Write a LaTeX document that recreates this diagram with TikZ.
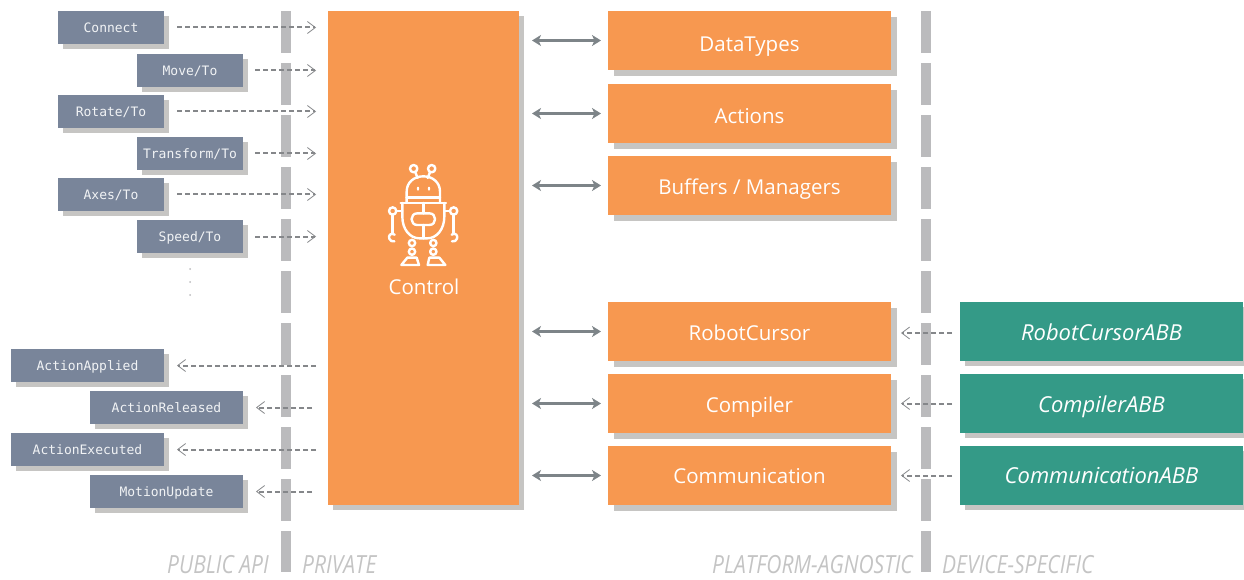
\documentclass[tikz,border=0pt]{standalone}
\usepackage{fontspec}
\setmainfont{Open Sans}
\setmonofont{DejaVu Sans Mono}
\newfontfamily\labelfont[FakeStretch=0.84]{Open Sans}
\usetikzlibrary{arrows.meta,shadows,calc}
\definecolor{orangebox}{HTML}{F79850}
\definecolor{greybox}{HTML}{79859A}
\definecolor{greenbox}{HTML}{349A87}
\definecolor{shadowc}{HTML}{C6C5C3}
\definecolor{barc}{HTML}{BBBBBD}
\definecolor{dashc}{HTML}{85878A}
\definecolor{dblc}{HTML}{7D8488}
\definecolor{labelc}{HTML}{C4C4C4}
\newcommand{\lowered}[2]{\raisebox{-#1pt}{#2}}
\tikzset{
  x=1pt,y=-1pt,
  boxshadow/.style={general shadow={shadow xshift=#1pt,shadow yshift=-#1pt,fill=shadowc,opacity=1}},
  basebox/.style={anchor=north west,inner sep=0pt,outer sep=0pt,text=white,text height=0pt,text depth=0pt},
  apibox/.style={basebox,fill=greybox,boxshadow=5,minimum width=#1pt,minimum height=33pt,font=\ttfamily\fontsize{13}{15}\selectfont,text=white!90!greybox},
  classbox/.style={basebox,fill=orangebox,boxshadow=6,minimum width=283pt,minimum height=59pt,font=\fontsize{20.5}{24}\selectfont},
  devbox/.style={basebox,fill=greenbox,boxshadow=5,minimum width=283pt,minimum height=59pt,font=\itshape\fontsize{22}{26}\selectfont},
  divider/.style={barc,line width=10pt,dash pattern=on 42pt off 10pt},
  callarrow/.style={dashc,line width=2pt,dash pattern=on 5pt off 3pt,-{Straight Barb[length=8pt,width=12pt,line width=.8pt]}},
  linkarrow/.style={dblc,line width=3pt,{Stealth[length=9pt,width=11pt,inset=2.5pt]}-{Stealth[length=9pt,width=11pt,inset=2.5pt]}},
  sidelabel/.style={labelc,inner sep=0pt,font=\labelfont\itshape\fontsize{25}{27}\selectfont},
  robotline/.style={white,line width=2.4pt,line cap=round,line join=round},
  dotmark/.style={circle,fill=barc,inner sep=0pt,minimum size=2pt}
}
\begin{document}
\begin{tikzpicture}
\useasboundingbox (0,0) rectangle (1244,580);
% dividers
\coordinate (pubtop) at (286,11);
\coordinate (pubbot) at (286,572);
\coordinate (devtop) at (926,11);
\coordinate (devbot) at (926,572);
\draw[divider] (pubtop) -- (pubbot);
\draw[divider] (devtop) -- (devbot);
% main block
\node[basebox,fill=orangebox,boxshadow=5,minimum width=191pt,minimum height=494pt] (control) at (328,11) {};
% API boxes
\node[apibox=106] (connect) at (58,11) {\lowered{4.8}{Connect}};
\node[apibox=106] (move) at (137,54) {\lowered{4.8}{Move/To}};
\node[apibox=106] (rotate) at (58,95) {\lowered{4.8}{Rotate/To}};
\node[apibox=106] (transform) at (137,137) {\lowered{4.8}{Transform/To}};
\node[apibox=106] (axes) at (58,178) {\lowered{4.8}{Axes/To}};
\node[apibox=106] (speed) at (137,220) {\lowered{4.8}{Speed/To}};
\node[apibox=153] (applied) at (11,349) {\lowered{4.8}{ActionApplied}};
\node[apibox=153] (released) at (90,391) {\lowered{4.8}{ActionReleased}};
\node[apibox=153] (executed) at (11,433) {\lowered{4.8}{ActionExecuted}};
\node[apibox=153] (motion) at (90,475) {\lowered{4.8}{MotionUpdate}};
% dots
\node[dotmark] (dota) at (190,269) {};
\node[dotmark] (dotb) at (190,282) {};
\node[dotmark] (dotc) at (190,295) {};
% class boxes
\node[classbox] (datatypes) at (608,11) {\lowered{10.8}{DataTypes}};
\node[classbox] (actions) at (608,84) {\lowered{10.5}{Actions}};
\node[classbox] (buffers) at (608,156) {\lowered{8.8}{Buffers / Managers}};
\node[classbox] (cursor) at (608,302) {\lowered{9.2}{RobotCursor}};
\node[classbox] (compiler) at (608,374) {\lowered{8.8}{Compiler}};
\node[classbox] (comm) at (608,446) {\lowered{7.6}{Communication}};
% device boxes
\node[devbox] (cursorabb) at (960,302) {\lowered{9.2}{RobotCursorABB}};
\node[devbox] (compilerabb) at (960,374) {\lowered{9.2}{CompilerABB}};
\node[devbox] (commabb) at (960,446) {\lowered{7.8}{CommunicationABB}};
% API arrows
\foreach \n/\s in {connect/13,move/12,rotate/13,transform/12,axes/13,speed/12}
  \draw[callarrow,shorten <=\s pt,shorten >=12pt] (\n.east) -- (\n.east -| control.west);
\foreach \n/\e in {applied/12,executed/12,released/16,motion/16}
  \draw[callarrow,shorten <=\e pt,shorten >=13pt] (\n.east -| control.west) -- (\n.east);
% links
\foreach \n in {datatypes,actions,buffers,cursor,compiler,comm}
  \draw[linkarrow,shorten <=13pt,shorten >=7pt] (\n.west -| control.east) -- (\n.west);
% device arrows
\draw[callarrow,shorten <=8pt,shorten >=10pt] ([yshift=-1.5pt]cursorabb.west) -- ([yshift=-1.5pt]cursor.east);
\draw[callarrow,shorten <=8pt,shorten >=10pt] (compilerabb.west) -- (compiler.east);
\draw[callarrow,shorten <=8pt,shorten >=10pt] (commabb.west) -- (comm.east);
% robot icon
\begin{scope}[shift={(360,150)},x=0.3333pt,y=-0.3333pt,robotline]
  \draw (161,56) circle (11);
  \draw (215,56) circle (11);
  \draw (166,67) -- (173,84);
  \draw (210,67) -- (203,84);
  \draw (140,157) -- (140,125) .. controls (140,97) and (162,79) .. (190,79) .. controls (218,79) and (240,97) .. (240,125) -- (240,157);
  \draw (140,143) -- (240,143);
  \fill[white] (174,116) ellipse (3.5 and 6);
  \fill[white] (207,116) ellipse (3.5 and 6);
  \draw (122,159) -- (258,159);
  \draw (127,159) -- (127,200) .. controls (127,238) and (150,265) .. (178,265) -- (202,265) .. controls (230,265) and (253,238) .. (253,200) -- (253,159);
  \draw (190,159) -- (190,190);
  \draw (190,225) -- (190,265);
  \draw (172,190) -- (208,190) .. controls (231,190) and (231,225) .. (208,225) -- (172,225) .. controls (149,225) and (149,190) .. (172,190) -- cycle;
  \draw (98,183) circle (11);
  \draw (281,183) circle (11);
  \draw (109,183) -- (127,183);
  \draw (253,183) -- (270,183);
  \draw (98,194) -- (98,250);
  \draw (281,194) -- (281,250);
  \draw (104,254) .. controls (92,246) and (84,258) .. (88,266) .. controls (90,272) and (96,276) .. (103,274);
  \draw (275,254) .. controls (287,246) and (295,258) .. (291,266) .. controls (289,272) and (283,276) .. (276,274);
  \draw (156,279) circle (9.5);
  \draw (156,305) circle (9.5);
  \draw (220,279) circle (9.5);
  \draw (220,305) circle (9.5);
  \draw (142,323) -- (170,323) -- (177,345) -- (124,345) -- cycle;
  \draw (208,323) -- (238,323) -- (256,345) -- (203,345) -- cycle;
\end{scope}
\node[white,inner sep=0pt,anchor=base,font=\fontsize{20.5}{24}\selectfont] (controllabel) at (424,294) {Control};
% side labels
\node[sidelabel,anchor=base west] (public) at (167,573) {PUBLIC API};
\node[sidelabel,anchor=base west] (private) at (302,573) {PRIVATE};
\node[sidelabel,anchor=base west] (agnostic) at (712,573) {PLATFORM-AGNOSTIC};
\node[sidelabel,anchor=base west] (specific) at (942,573) {DEVICE-SPECIFIC};
\end{tikzpicture}
\end{document}
